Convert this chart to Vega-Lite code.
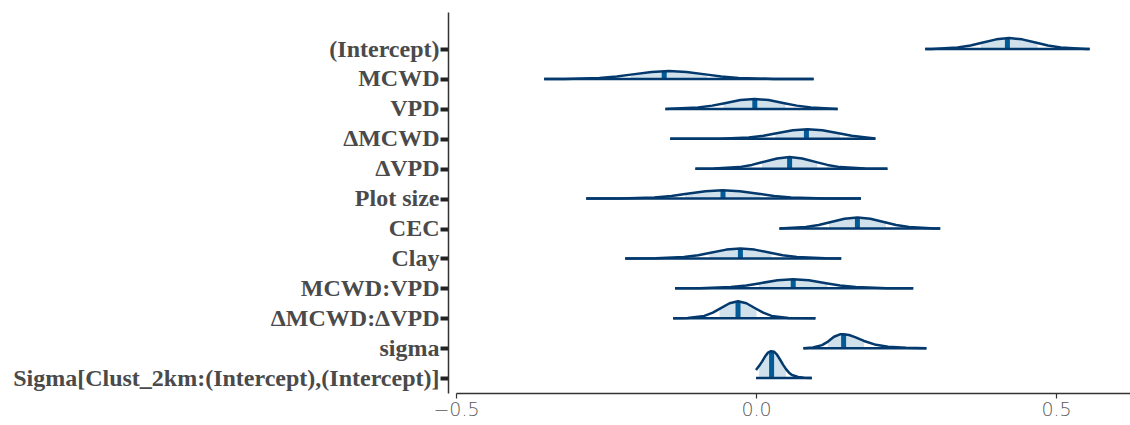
{
  "$schema": "https://vega.github.io/schema/vega-lite/v6.json",
  "width": 674,
  "height": 381,
  "autosize": {"type": "none"},
  "padding": {"left": 456, "top": 12, "right": 0, "bottom": 32},
  "background": "white",
  "config": {"view": {"stroke": null}},
  "datasets": {
    "dens": [
      {"p":"(Intercept)","x":0.282,"d":0},{"p":"(Intercept)","x":0.293,"d":0.004},{"p":"(Intercept)","x":0.336,"d":0.05},{"p":"(Intercept)","x":0.3575,"d":0.12},{"p":"(Intercept)","x":0.3747,"d":0.201},{"p":"(Intercept)","x":0.4005,"d":0.325},{"p":"(Intercept)","x":0.422,"d":0.368},{"p":"(Intercept)","x":0.4435,"d":0.325},{"p":"(Intercept)","x":0.4693,"d":0.201},{"p":"(Intercept)","x":0.4865,"d":0.12},{"p":"(Intercept)","x":0.508,"d":0.05},{"p":"(Intercept)","x":0.551,"d":0.004},{"p":"(Intercept)","x":0.556,"d":0},
      {"p":"MCWD","x":-0.353,"d":0},{"p":"MCWD","x":-0.319,"d":0.003},{"p":"MCWD","x":-0.261,"d":0.036},{"p":"MCWD","x":-0.232,"d":0.087},{"p":"MCWD","x":-0.2088,"d":0.146},{"p":"MCWD","x":-0.174,"d":0.237},{"p":"MCWD","x":-0.145,"d":0.268},{"p":"MCWD","x":-0.116,"d":0.237},{"p":"MCWD","x":-0.0812,"d":0.146},{"p":"MCWD","x":-0.058,"d":0.087},{"p":"MCWD","x":-0.029,"d":0.036},{"p":"MCWD","x":0.029,"d":0.003},{"p":"MCWD","x":0.096,"d":0},
      {"p":"VPD","x":-0.151,"d":0},{"p":"VPD","x":-0.1435,"d":0.004},{"p":"VPD","x":-0.0965,"d":0.045},{"p":"VPD","x":-0.073,"d":0.109},{"p":"VPD","x":-0.0542,"d":0.182},{"p":"VPD","x":-0.026,"d":0.295},{"p":"VPD","x":-0.0025,"d":0.334},{"p":"VPD","x":0.021,"d":0.295},{"p":"VPD","x":0.0492,"d":0.182},{"p":"VPD","x":0.068,"d":0.109},{"p":"VPD","x":0.0915,"d":0.045},{"p":"VPD","x":0.136,"d":0},
      {"p":"ΔMCWD","x":-0.143,"d":0},{"p":"ΔMCWD","x":-0.061,"d":0.004},{"p":"ΔMCWD","x":-0.012,"d":0.043},{"p":"ΔMCWD","x":0.0125,"d":0.104},{"p":"ΔMCWD","x":0.0321,"d":0.175},{"p":"ΔMCWD","x":0.0615,"d":0.283},{"p":"ΔMCWD","x":0.086,"d":0.321},{"p":"ΔMCWD","x":0.1105,"d":0.283},{"p":"ΔMCWD","x":0.1399,"d":0.175},{"p":"ΔMCWD","x":0.1595,"d":0.104},{"p":"ΔMCWD","x":0.184,"d":0.043},{"p":"ΔMCWD","x":0.199,"d":0.01},
      {"p":"ΔVPD","x":-0.101,"d":0},{"p":"ΔVPD","x":-0.07,"d":0.004},{"p":"ΔVPD","x":-0.028,"d":0.053},{"p":"ΔVPD","x":-0.007,"d":0.127},{"p":"ΔVPD","x":0.0098,"d":0.213},{"p":"ΔVPD","x":0.035,"d":0.344},{"p":"ΔVPD","x":0.056,"d":0.39},{"p":"ΔVPD","x":0.077,"d":0.344},{"p":"ΔVPD","x":0.1022,"d":0.213},{"p":"ΔVPD","x":0.119,"d":0.127},{"p":"ΔVPD","x":0.14,"d":0.053},{"p":"ΔVPD","x":0.182,"d":0.004},{"p":"ΔVPD","x":0.219,"d":0},
      {"p":"Plot size","x":-0.283,"d":0},{"p":"Plot size","x":-0.2265,"d":0.003},{"p":"Plot size","x":-0.1695,"d":0.038},{"p":"Plot size","x":-0.141,"d":0.09},{"p":"Plot size","x":-0.1182,"d":0.152},{"p":"Plot size","x":-0.084,"d":0.245},{"p":"Plot size","x":-0.0555,"d":0.278},{"p":"Plot size","x":-0.027,"d":0.245},{"p":"Plot size","x":0.0072,"d":0.152},{"p":"Plot size","x":0.03,"d":0.09},{"p":"Plot size","x":0.0585,"d":0.038},{"p":"Plot size","x":0.1155,"d":0.003},{"p":"Plot size","x":0.175,"d":0},
      {"p":"CEC","x":0.039,"d":0.003},{"p":"CEC","x":0.083,"d":0.05},{"p":"CEC","x":0.1045,"d":0.12},{"p":"CEC","x":0.1217,"d":0.201},{"p":"CEC","x":0.1475,"d":0.325},{"p":"CEC","x":0.169,"d":0.368},{"p":"CEC","x":0.1905,"d":0.325},{"p":"CEC","x":0.2163,"d":0.201},{"p":"CEC","x":0.2335,"d":0.12},{"p":"CEC","x":0.255,"d":0.05},{"p":"CEC","x":0.298,"d":0.004},{"p":"CEC","x":0.307,"d":0},
      {"p":"Clay","x":-0.218,"d":0},{"p":"Clay","x":-0.167,"d":0.004},{"p":"Clay","x":-0.12,"d":0.045},{"p":"Clay","x":-0.0965,"d":0.109},{"p":"Clay","x":-0.0777,"d":0.182},{"p":"Clay","x":-0.0495,"d":0.295},{"p":"Clay","x":-0.026,"d":0.334},{"p":"Clay","x":-0.0025,"d":0.295},{"p":"Clay","x":0.0257,"d":0.182},{"p":"Clay","x":0.0445,"d":0.109},{"p":"Clay","x":0.068,"d":0.045},{"p":"Clay","x":0.115,"d":0.004},{"p":"Clay","x":0.142,"d":0},
      {"p":"MCWD:VPD","x":-0.135,"d":0},{"p":"MCWD:VPD","x":-0.094,"d":0.003},{"p":"MCWD:VPD","x":-0.042,"d":0.041},{"p":"MCWD:VPD","x":-0.016,"d":0.098},{"p":"MCWD:VPD","x":0.0048,"d":0.165},{"p":"MCWD:VPD","x":0.036,"d":0.267},{"p":"MCWD:VPD","x":0.062,"d":0.302},{"p":"MCWD:VPD","x":0.088,"d":0.267},{"p":"MCWD:VPD","x":0.1192,"d":0.165},{"p":"MCWD:VPD","x":0.14,"d":0.098},{"p":"MCWD:VPD","x":0.166,"d":0.041},{"p":"MCWD:VPD","x":0.218,"d":0.003},{"p":"MCWD:VPD","x":0.262,"d":0},
      {"p":"ΔMCWD:ΔVPD","x":-0.138,"d":0},{"p":"ΔMCWD:ΔVPD","x":-0.114,"d":0.006},{"p":"ΔMCWD:ΔVPD","x":-0.086,"d":0.077},{"p":"ΔMCWD:ΔVPD","x":-0.072,"d":0.185},{"p":"ΔMCWD:ΔVPD","x":-0.0608,"d":0.31},{"p":"ΔMCWD:ΔVPD","x":-0.044,"d":0.502},{"p":"ΔMCWD:ΔVPD","x":-0.03,"d":0.568},{"p":"ΔMCWD:ΔVPD","x":-0.016,"d":0.502},{"p":"ΔMCWD:ΔVPD","x":0.0008,"d":0.31},{"p":"ΔMCWD:ΔVPD","x":0.012,"d":0.185},{"p":"ΔMCWD:ΔVPD","x":0.026,"d":0.077},{"p":"ΔMCWD:ΔVPD","x":0.054,"d":0.006},{"p":"ΔMCWD:ΔVPD","x":0.099,"d":0},
      {"p":"sigma","x":0.079,"d":0},{"p":"sigma","x":0.095,"d":0.02},{"p":"sigma","x":0.11,"d":0.1},{"p":"sigma","x":0.12,"d":0.22},{"p":"sigma","x":0.13,"d":0.38},{"p":"sigma","x":0.14,"d":0.462},{"p":"sigma","x":0.146,"d":0.468},{"p":"sigma","x":0.155,"d":0.44},{"p":"sigma","x":0.165,"d":0.37},{"p":"sigma","x":0.18,"d":0.24},{"p":"sigma","x":0.2,"d":0.11},{"p":"sigma","x":0.22,"d":0.045},{"p":"sigma","x":0.25,"d":0.01},{"p":"sigma","x":0.284,"d":0},
      {"p":"Sigma[Clust_2km:(Intercept),(Intercept)]","x":0,"d":0.27},{"p":"Sigma[Clust_2km:(Intercept),(Intercept)]","x":0.005,"d":0.4},{"p":"Sigma[Clust_2km:(Intercept),(Intercept)]","x":0.01,"d":0.55},{"p":"Sigma[Clust_2km:(Intercept),(Intercept)]","x":0.015,"d":0.72},{"p":"Sigma[Clust_2km:(Intercept),(Intercept)]","x":0.02,"d":0.85},{"p":"Sigma[Clust_2km:(Intercept),(Intercept)]","x":0.025,"d":0.9},{"p":"Sigma[Clust_2km:(Intercept),(Intercept)]","x":0.03,"d":0.88},{"p":"Sigma[Clust_2km:(Intercept),(Intercept)]","x":0.035,"d":0.78},{"p":"Sigma[Clust_2km:(Intercept),(Intercept)]","x":0.04,"d":0.62},{"p":"Sigma[Clust_2km:(Intercept),(Intercept)]","x":0.045,"d":0.45},{"p":"Sigma[Clust_2km:(Intercept),(Intercept)]","x":0.05,"d":0.3},{"p":"Sigma[Clust_2km:(Intercept),(Intercept)]","x":0.055,"d":0.18},{"p":"Sigma[Clust_2km:(Intercept),(Intercept)]","x":0.06,"d":0.1},{"p":"Sigma[Clust_2km:(Intercept),(Intercept)]","x":0.07,"d":0.035},{"p":"Sigma[Clust_2km:(Intercept),(Intercept)]","x":0.08,"d":0.01},{"p":"Sigma[Clust_2km:(Intercept),(Intercept)]","x":0.093,"d":0}
    ],
    "intervals": [
      {"p":"(Intercept)","lo":0.282,"hi":0.556,"ql":0.3747,"qh":0.4693,"med":0.419,"dm":0.365},
      {"p":"MCWD","lo":-0.353,"hi":0.096,"ql":-0.2088,"qh":-0.0812,"med":-0.153,"dm":0.262},
      {"p":"VPD","lo":-0.151,"hi":0.136,"ql":-0.0542,"qh":0.0492,"med":-0.002,"dm":0.334},
      {"p":"ΔMCWD","lo":-0.143,"hi":0.199,"ql":0.0321,"qh":0.1399,"med":0.084,"dm":0.32},
      {"p":"ΔVPD","lo":-0.101,"hi":0.219,"ql":0.0098,"qh":0.1022,"med":0.056,"dm":0.39},
      {"p":"Plot size","lo":-0.283,"hi":0.175,"ql":-0.1182,"qh":0.0072,"med":-0.055,"dm":0.278},
      {"p":"CEC","lo":0.039,"hi":0.307,"ql":0.1217,"qh":0.2163,"med":0.169,"dm":0.368},
      {"p":"Clay","lo":-0.218,"hi":0.142,"ql":-0.0777,"qh":0.0257,"med":-0.026,"dm":0.334},
      {"p":"MCWD:VPD","lo":-0.135,"hi":0.262,"ql":0.0048,"qh":0.1192,"med":0.062,"dm":0.302},
      {"p":"ΔMCWD:ΔVPD","lo":-0.138,"hi":0.099,"ql":-0.0608,"qh":0.0008,"med":-0.03,"dm":0.568},
      {"p":"sigma","lo":0.079,"hi":0.284,"ql":0.12,"qh":0.18,"med":0.146,"dm":0.468},
      {"p":"Sigma[Clust_2km:(Intercept),(Intercept)]","lo":0,"hi":0.093,"ql":0.005,"qh":0.05,"med":0.026,"dm":0.89}
    ]
  },
  "encoding": {
    "x": {
      "type": "quantitative",
      "scale": {"domain": [-0.5, 0.6233], "nice": false, "zero": false},
      "axis": {
        "title": null, "values": [-0.5, 0, 0.5], "format": ".1f", "grid": false, "labelFlush": false,
        "domainColor": "#333333", "domainWidth": 1.5, "tickColor": "#333333", "tickSize": 5, "tickWidth": 1.2,
        "labelFont": "DejaVu Sans", "labelFontWeight": 300, "labelFontSize": 19, "labelColor": "#5a5a5a", "labelPadding": 2
      }
    },
    "y": {
      "type": "quantitative",
      "scale": {"domain": [-0.5, 12.24], "nice": false, "zero": false},
      "axis": {
        "title": null, "values": [0,1,2,3,4,5,6,7,8,9,10,11], "grid": false, "offset": 8,
        "labelExpr": "['Sigma[Clust_2km:(Intercept),(Intercept)]','sigma','ΔMCWD:ΔVPD','MCWD:VPD','Clay','CEC','Plot size','ΔVPD','ΔMCWD','VPD','MCWD','(Intercept)'][datum.value]",
        "domainColor": "#333333", "domainWidth": 1.5, "tickColor": "#222222", "tickSize": 8, "tickWidth": 4,
        "labelFont": "Liberation Serif", "labelFontWeight": "bold", "labelFontSize": 24, "labelColor": "#4a4a4a", "labelPadding": 1, "labelLimit": 0
      }
    }
  },
  "layer": [
    {
      "data": {"name": "dens"},
      "transform": [
        {"lookup": "p", "from": {"data": {"name": "intervals"}, "key": "p", "fields": ["ql", "qh"]}},
        {"filter": "datum.x >= datum.ql && datum.x <= datum.qh"},
        {"calculate": "indexof(['Sigma[Clust_2km:(Intercept),(Intercept)]','sigma','ΔMCWD:ΔVPD','MCWD:VPD','Clay','CEC','Plot size','ΔVPD','ΔMCWD','VPD','MCWD','(Intercept)'], datum.p)", "as": "base"},
        {"calculate": "datum.base + datum.d", "as": "top"}
      ],
      "mark": {"type": "area", "color": "#d1e1ec", "opacity": 1},
      "encoding": {
        "x": {"field": "x", "type": "quantitative"},
        "y": {"field": "top", "type": "quantitative"},
        "y2": {"field": "base"},
        "detail": {"field": "p", "type": "nominal"}
      }
    },
    {
      "data": {"name": "intervals"},
      "transform": [
        {"calculate": "indexof(['Sigma[Clust_2km:(Intercept),(Intercept)]','sigma','ΔMCWD:ΔVPD','MCWD:VPD','Clay','CEC','Plot size','ΔVPD','ΔMCWD','VPD','MCWD','(Intercept)'], datum.p)", "as": "base"},
        {"calculate": "datum.base + datum.dm", "as": "mtop"}
      ],
      "mark": {"type": "rule", "color": "#005b96", "strokeWidth": 5},
      "encoding": {
        "x": {"field": "med", "type": "quantitative"},
        "y": {"field": "base", "type": "quantitative"},
        "y2": {"field": "mtop"}
      }
    },
    {
      "data": {"name": "dens"},
      "transform": [
        {"calculate": "indexof(['Sigma[Clust_2km:(Intercept),(Intercept)]','sigma','ΔMCWD:ΔVPD','MCWD:VPD','Clay','CEC','Plot size','ΔVPD','ΔMCWD','VPD','MCWD','(Intercept)'], datum.p)", "as": "base"},
        {"calculate": "datum.base + datum.d", "as": "top"}
      ],
      "mark": {"type": "line", "color": "#03396c", "strokeWidth": 2.5, "strokeJoin": "round"},
      "encoding": {
        "x": {"field": "x", "type": "quantitative"},
        "y": {"field": "top", "type": "quantitative"},
        "detail": {"field": "p", "type": "nominal"}
      }
    },
    {
      "data": {"name": "intervals"},
      "transform": [
        {"calculate": "indexof(['Sigma[Clust_2km:(Intercept),(Intercept)]','sigma','ΔMCWD:ΔVPD','MCWD:VPD','Clay','CEC','Plot size','ΔVPD','ΔMCWD','VPD','MCWD','(Intercept)'], datum.p)", "as": "base"}
      ],
      "mark": {"type": "rule", "color": "#03396c", "strokeWidth": 2.5},
      "encoding": {
        "x": {"field": "lo", "type": "quantitative"},
        "x2": {"field": "hi"},
        "y": {"field": "base", "type": "quantitative"}
      }
    }
  ]
}
